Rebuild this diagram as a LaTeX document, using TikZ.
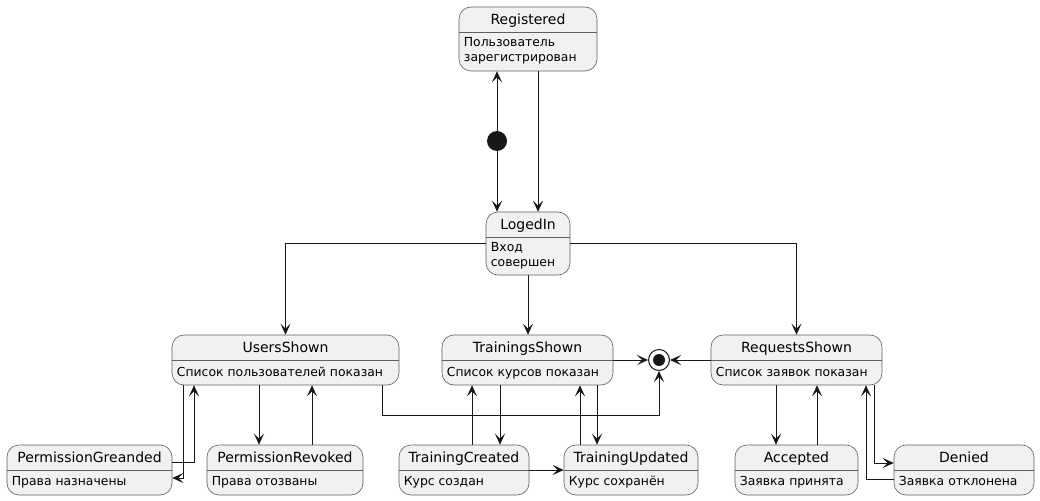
\documentclass[tikz,border=0pt]{standalone}
\usepackage{fontspec}
\setmainfont{DejaVu Sans}
\usetikzlibrary{arrows.meta,positioning,calc}
\definecolor{statefill}{HTML}{F1F1F1}
\definecolor{statedraw}{HTML}{5F5F5F}
\definecolor{ink}{HTML}{181818}

\begin{document}
\begin{tikzpicture}[
      x=1pt, y=-1pt,
      state/.style={
        draw=statedraw,
        fill=statefill,
        rounded corners=12pt,
        line width=0.6pt,
        inner sep=0pt
      },
      ttl/.style={
        anchor=base,
        inner sep=0pt,
        font=\fontsize{14}{16}\selectfont
      },
      dsc/.style={
        anchor=base west,
        inner sep=0pt,
        align=left,
        font=\fontsize{12.4}{14.5}\selectfont
      },
      sep/.style={
        draw=statedraw,
        line width=0.6pt
      },
      arr/.style={
        -{Stealth[length=11pt,width=10pt,inset=5pt]},
        draw=ink,
        line width=0.9pt
      }
    ]
    \useasboundingbox (0,0) rectangle (1040,500);

    % states
    \node[state, minimum width=138pt, minimum height=64pt] (reg)   at (528,39)    {};
    \node[state, minimum width=84pt,  minimum height=63pt] (login) at (528,243.5) {};
    \node[state, minimum width=227pt, minimum height=50pt] (usr)   at (285.5,360) {};
    \node[state, minimum width=171pt, minimum height=50pt] (trn)   at (527.5,360) {};
    \node[state, minimum width=171pt, minimum height=50pt] (req)   at (796.5,360) {};
    \node[state, minimum width=165pt, minimum height=50pt] (pgr)   at (89.5,470)  {};
    \node[state, minimum width=156pt, minimum height=50pt] (prv)   at (285,470)   {};
    \node[state, minimum width=130pt, minimum height=50pt] (tcr)   at (464,470)   {};
    \node[state, minimum width=134pt, minimum height=50pt] (tup)   at (631,470)   {};
    \node[state, minimum width=123pt, minimum height=50pt] (acc)   at (796.5,470) {};
    \node[state, minimum width=140pt, minimum height=50pt] (den)   at (964,470)   {};

    \foreach \n in {reg,login,usr,trn,req,pgr,prv,tcr,tup,acc,den}
      \draw[sep] ([yshift=-26pt]\n.north west) -- ([yshift=-26pt]\n.north east);

    % titles
    \node[ttl] (reg-t)   at ([yshift=-18pt]reg.north)   {Registered};
    \node[ttl] (login-t) at ([yshift=-18pt]login.north) {LogedIn};
    \node[ttl] (usr-t)   at ([yshift=-18pt]usr.north)   {UsersShown};
    \node[ttl] (trn-t)   at ([yshift=-18pt]trn.north)   {TrainingsShown};
    \node[ttl] (req-t)   at ([yshift=-18pt]req.north)   {RequestsShown};
    \node[ttl] (pgr-t)   at ([yshift=-18pt]pgr.north)   {PermissionGreanded};
    \node[ttl] (prv-t)   at ([yshift=-18pt]prv.north)   {PermissionRevoked};
    \node[ttl] (tcr-t)   at ([yshift=-18pt]tcr.north)   {TrainingCreated};
    \node[ttl] (tup-t)   at ([yshift=-18pt]tup.north)   {TrainingUpdated};
    \node[ttl] (acc-t)   at ([yshift=-18pt]acc.north)   {Accepted};
    \node[ttl] (den-t)   at ([yshift=-18pt]den.north)   {Denied};

    % descriptions (base = last line)
    \node[dsc] (reg-d)   at ([xshift=5pt,yshift=-54.5pt]reg.north west)   {Пользователь\\зарегистрирован};
    \node[dsc] (login-d) at ([xshift=5pt,yshift=-54.5pt]login.north west) {Вход\\совершен};
    \node[dsc] (usr-d)   at ([xshift=5pt,yshift=-42pt]usr.north west)   {Список пользователей показан};
    \node[dsc] (trn-d)   at ([xshift=5pt,yshift=-42pt]trn.north west)   {Список курсов показан};
    \node[dsc] (req-d)   at ([xshift=5pt,yshift=-42pt]req.north west)   {Список заявок показан};
    \node[dsc] (pgr-d)   at ([xshift=5pt,yshift=-41pt]pgr.north west)   {Права назначены};
    \node[dsc] (prv-d)   at ([xshift=5pt,yshift=-41pt]prv.north west)   {Права отозваны};
    \node[dsc] (tcr-d)   at ([xshift=5pt,yshift=-41pt]tcr.north west)   {Курс создан};
    \node[dsc] (tup-d)   at ([xshift=5pt,yshift=-41pt]tup.north west)   {Курс сохранён};
    \node[dsc] (acc-d)   at ([xshift=5pt,yshift=-41pt]acc.north west)   {Заявка принята};
    \node[dsc] (den-d)   at ([xshift=5pt,yshift=-41pt]den.north west)   {Заявка отклонена};

    % start and end
    \node[circle, fill=ink, minimum size=20pt, inner sep=0pt] (init) at (497,141) {};
    \node[circle, draw=ink, fill=white, line width=1pt, minimum size=21pt, inner sep=0pt] (fin) at (659,360) {};
    \node[circle, fill=ink, minimum size=12pt, inner sep=0pt] (fin-dot) at (fin) {};

    % transitions
    \draw[arr] (init) -- (init |- reg.south);
    \draw[arr] (init) -- (init |- login.north);
    \draw[arr] (reg.south -| 538,0) -- (login.north -| 538,0);
    \draw[arr] (login.west) -| (usr.north);
    \draw[arr] (login.south) -- (login.south |- trn.north);
    \draw[arr] (login.east) -| (req.north);

    \draw[arr] (trn) -- (fin);
    \draw[arr] (req) -- (fin);
    \draw[arr] (usr.south -| 382,0) |- (fin |- 0,415) -- (fin);

    \draw[arr] (usr.south -| 183,0) |- (pgr.east |- 0,478);
    \draw[arr] (pgr.east |- 0,462) -| (usr.south -| 194,0);
    \draw[arr] (usr.south -| 259,0) -- (prv.north -| 259,0);
    \draw[arr] (prv.north -| 312,0) -- (usr.south -| 312,0);

    \draw[arr] (trn.south -| 500,0) -- (tcr.north -| 500,0);
    \draw[arr] (tcr.north -| 472,0) -- (trn.south -| 472,0);
    \draw[arr] (trn.south -| 597,0) -- (tup.north -| 597,0);
    \draw[arr] (tup.north -| 580,0) -- (trn.south -| 580,0);
    \draw[arr] (tcr) -- (tup);

    \draw[arr] (req.south -| 776,0) -- (acc.north -| 776,0);
    \draw[arr] (acc.north -| 817,0) -- (req.south -| 817,0);
    \draw[arr] (req.south -| 874,0) |- (den.west |- 0,463);
    \draw[arr] (den.west |- 0,479) -| (req.south -| 866,0);
  \end{tikzpicture}
\end{document}
